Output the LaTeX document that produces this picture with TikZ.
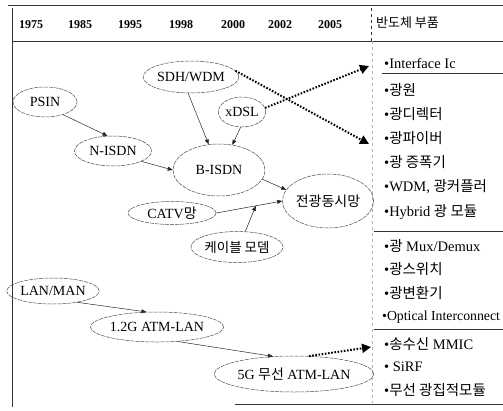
\documentclass[tikz,border=0pt]{standalone}
\usepackage{fontspec}
\setmainfont{Liberation Serif}
\newfontfamily\kr{Noto Sans CJK KR}
\usetikzlibrary{shapes.geometric,arrows.meta,calc}
\begin{document}
\begin{tikzpicture}[x=1pt,y=-1pt,
  frame/.style={line width=0.9pt,black!80},
  oval/.style={ellipse,draw=black!70,line width=0.5pt,dash pattern=on 4pt off 1pt,inner sep=0pt,font=\fontsize{14}{16}\selectfont},
  year/.style={font=\fontsize{12}{14}\selectfont\bfseries,inner sep=0pt},
  item/.style={anchor=west,inner sep=0pt,font=\fontsize{14.5}{16}\selectfont},
  conn/.style={line width=0.5pt,black!85,-{Triangle[length=5pt,width=4pt]}},
  dotarrow/.style={line width=2pt,dash pattern=on 1.6pt off 1.6pt,-{Triangle[length=9pt,width=9pt]}},
]
\useasboundingbox (0,0) rectangle (503,410);
% frame
\draw[frame] (8,5) -- (503,5);
\draw[frame] (12,8) -- (12,407);
\draw[frame] (12,41) -- (503,41);
\draw[frame,dashed,line width=0.6pt] (371,8) -- (371,41);
\draw[black!30,dashed,line width=0.4pt] (372,41) -- (372,403);
\draw[frame,line width=0.8pt] (382,73) -- (503,73);
\draw[frame,line width=0.8pt] (374,231) -- (503,231);
\draw[frame,line width=0.8pt] (374,329) -- (503,329);
\draw[frame,line width=0.8pt] (235,404) -- (503,404);
% header
\node[year] (y1) at (31,25) {1975};
\node[year] (y2) at (80,25) {1985};
\node[year] (y3) at (130,25) {1995};
\node[year] (y4) at (181,25) {1998};
\node[year] (y5) at (233,25) {2000};
\node[year] (y6) at (280,25) {2002};
\node[year] (y7) at (330,25) {2005};
\node[anchor=west,inner sep=0pt,font=\fontsize{13}{15}\selectfont\kr] (hdr) at (376,23) {반도체 부품};
% ellipses
\node[oval,minimum width=64,minimum height=30] (psin) at (45,102) {PSIN};
\node[oval,minimum width=77,minimum height=30] (nisdn) at (113,151) {N-ISDN};
\node[oval,minimum width=84,minimum height=32] (sdh) at (191,77) {SDH/WDM};
\node[oval,minimum width=43,minimum height=30] (xdsl) at (242,112) {xDSL};
\node[oval,minimum width=92,minimum height=52] (bisdn) at (219,170) {B-ISDN};
\node[oval,minimum width=84,minimum height=54,font=\fontsize{14}{16}\selectfont\kr] (all) at (328,201) {전광동시망};
\node[oval,minimum width=88,minimum height=23] (catv) at (172,213) {CATV{\kr 망}};
\node[oval,minimum width=82,minimum height=31,font=\fontsize{13.5}{15}\selectfont\kr] (modem) at (237,247) {케이블 모뎀};
\node[oval,minimum width=78,minimum height=26] (lan) at (53,291) {LAN/MAN};
\node[oval,minimum width=120,minimum height=30] (atm1) at (157,327) {1.2G ATM-LAN};
\node[oval,minimum width=135,minimum height=36] (atm5) at (294,374) {5G {\kr 무선} ATM-LAN};
% list
\node[item] (i1) at (384,63) {•Interface Ic};
\node[item] (i2) at (384,90) {•{\kr 광원}};
\node[item] (i3) at (384,114) {•{\kr 광디렉터}};
\node[item] (i4) at (384,138) {•{\kr 광파이버}};
\node[item] (i5) at (384,162) {•{\kr 광 증폭기}};
\node[item] (i6) at (384,187) {•WDM, {\kr 광커플러}};
\node[item] (i7) at (384,212) {•Hybrid {\kr 광 모듈}};
\node[item] (i8) at (384,246) {•{\kr 광} Mux/Demux};
\node[item] (i9) at (384,269) {•{\kr 광스위치}};
\node[item] (i10) at (384,293) {•{\kr 광변환기}};
\node[item,font=\fontsize{13.8}{16}\selectfont] (i11) at (382,317) {•Optical Interconnect};
\node[item] (i12) at (384,344) {•{\kr 송수신} MMIC};
\node[item] (i13) at (384,367) {• SiRF};
\node[item] (i14) at (384,390) {•{\kr 무선 광집적모듈}};
% solid connectors
\draw[conn] (psin.-35) -- (nisdn.110);
\draw[conn] (sdh.-100) -- (bisdn.112);
\draw[conn] (xdsl.-95) -- (bisdn.62);
\draw[conn] (nisdn.-20) -- (bisdn.180);
\draw[conn] (bisdn.-12) -- (all.165);
\draw[conn] (catv.0) -- (all.180);
\coordinate (mid) at ($(catv.0)!0.6!(all.180)$);
\draw[conn] (modem.62) -- (mid);
\draw[conn] (lan.-25) -- (atm1.125);
\draw[conn] (atm1.-35) -- (atm5.140);
% dotted connectors
\coordinate (t4) at (369,144);
\coordinate (t1) at (369,66);
\coordinate (t12) at (371,347);
\draw[dotarrow] (sdh.8) -- (t4);
\draw[dotarrow] (xdsl.10) -- (t1);
\draw[dotarrow] (atm5.50) -- (t12);
\end{tikzpicture}
\end{document}
